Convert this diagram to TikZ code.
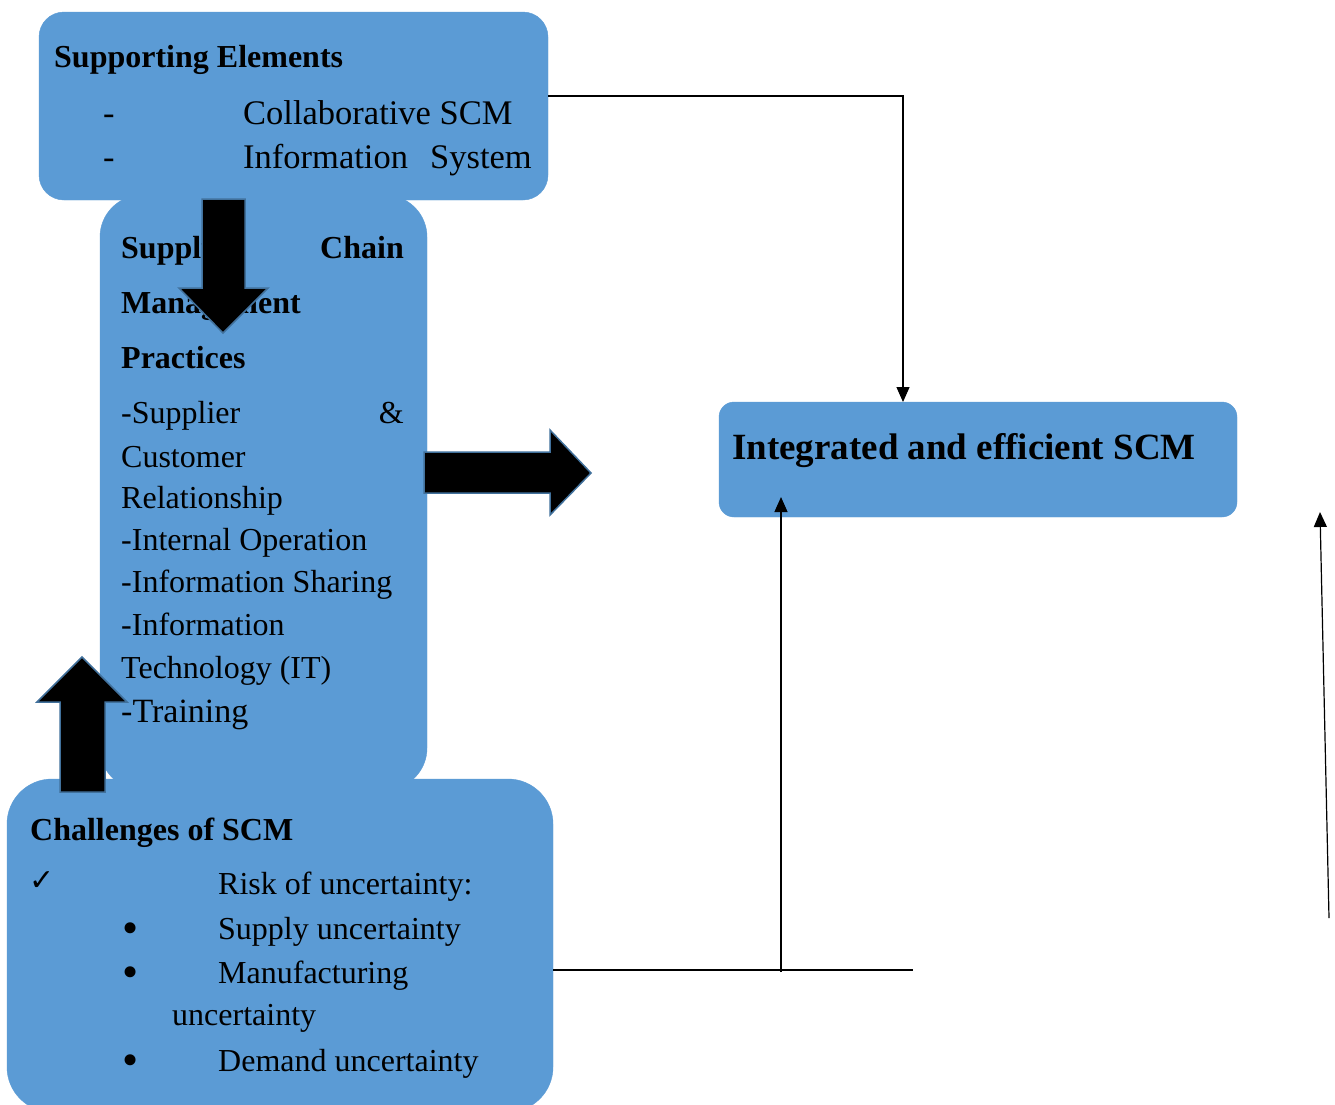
\documentclass[tikz,border=0pt]{standalone}
\usepackage{fontspec}
\setmainfont{Liberation Serif}
\newfontfamily\symfont{DejaVu Sans}
\usetikzlibrary{arrows.meta}
\definecolor{boxblue}{HTML}{5B9BD5}
\definecolor{arrowedge}{HTML}{41719C}

\tikzset{
  blockbox/.style={fill=boxblue, draw=boxblue, inner sep=0pt, outer sep=0pt, anchor=north west},
  txt/.style={anchor=base west, inner sep=0pt, font=\fontsize{32}{38}\selectfont},
  txtbig/.style={txt, font=\fontsize{34.5}{40}\selectfont},
  head/.style={txt, font=\bfseries\fontsize{32}{38}\selectfont},
  dot/.style={txt, font=\fontsize{46}{50}\selectfont},
  bigarrow/.style={fill=black, draw=arrowedge, line width=1.5pt},
  link/.style={line width=1.2pt},
  linkarrow/.style={link, -{Triangle[length=15pt,width=13pt]}}
}

\begin{document}
\begin{tikzpicture}[x=1pt, y=-1pt]
% \draw[lightgray] (0,0) grid[step=100] (1335,1104);
\useasboundingbox[fill=white] (0,0) rectangle (1335,1104);

% boxes
\node[blockbox, rounded corners=25pt, minimum width=509pt, minimum height=188pt] (S) at (39,12) {};
\node[blockbox, rounded corners=42pt, minimum width=327pt, minimum height=595pt] (P) at (100,195) {};
\node[blockbox, rounded corners=45pt, minimum width=546pt, minimum height=333pt] (C) at (7,779) {};
\node[blockbox, rounded corners=15pt, minimum width=518pt, minimum height=115pt] (I) at (719,402) {};

% supporting elements
\node[head] (s0) at (54,67) {Supporting Elements};
\node[txtbig] (s1d) at (103,124) {-};
\node[txtbig] (s1) at (243,124) {Collaborative SCM};
\node[txtbig] (s2d) at (103,168) {-};
\node[txtbig] (s2) at (243,168) {Information};
\node[txtbig, anchor=base east] (s2b) at (532,168) {System};

% practices
\node[head] (p0) at (121,258) {Supply};
\node[head, anchor=base east] (p0b) at (404,258) {Chain};
\node[head] (p1) at (121,313) {Management};
\node[head] (p2) at (121,368) {Practices};
\node[txt] (p3) at (121,423) {-Supplier};
\node[txt, anchor=base east] (p3b) at (404,423) {\&};
\node[txt] (p4) at (121,467) {Customer};
\node[txt] (p5) at (121,508) {Relationship};
\node[txt] (p6) at (121,550) {-Internal Operation};
\node[txt] (p7) at (121,592) {-Information Sharing};
\node[txt] (p8) at (121,635) {-Information};
\node[txt] (p9) at (121,678) {Technology (IT)};
\node[txt, font=\fontsize{34}{40}\selectfont] (p10) at (121,722) {-Training};

% challenges
\node[head] (c0) at (30,840) {Challenges of SCM};
\node[txt, font=\symfont\fontsize{30}{34}\selectfont] (c1m) at (29,890) {✓};
\node[txt] (c1) at (218,894) {Risk of uncertainty:};
\node[dot] (c2m) at (122,943) {•};
\node[txt] (c2) at (218,939) {Supply uncertainty};
\node[dot] (c3m) at (122,987) {•};
\node[txt] (c3) at (218,983) {Manufacturing};
\node[txt] (c3b) at (172,1025) {uncertainty};
\node[dot] (c4m) at (122,1075) {•};
\node[txt] (c4) at (218,1071) {Demand uncertainty};

% result
\node[txt, font=\bfseries\fontsize{37}{44}\selectfont] (i0) at (732,459) {Integrated and efficient SCM};

% block arrows
\draw[bigarrow] (202,199) -- (245,199) -- (245,288) -- (268,288) -- (223,333) -- (179,288) -- (202,288) -- cycle;
\draw[bigarrow] (60,792) -- (105,792) -- (105,702) -- (127,702) -- (82,657) -- (37,702) -- (60,702) -- cycle;
\draw[bigarrow] (424,452) -- (550,452) -- (550,430) -- (591,473) -- (550,515) -- (550,493) -- (424,493) -- cycle;

% thin connectors
\coordinate (bend) at (913,970);
\coordinate (foot) at (781,972);
\coordinate (low) at (1329,918);
\coordinate (high) at (1320,512);

\draw[linkarrow] ([yshift=10pt]S.east) -| ([xshift=-75pt]I.north);
\draw[link] ([yshift=-24.5pt]C.east) -- (bend);
\draw[linkarrow] (foot) -- ([xshift=-197pt, yshift=20pt]I.south);
\draw[linkarrow] (low) -- (high);

\end{tikzpicture}
\end{document}
